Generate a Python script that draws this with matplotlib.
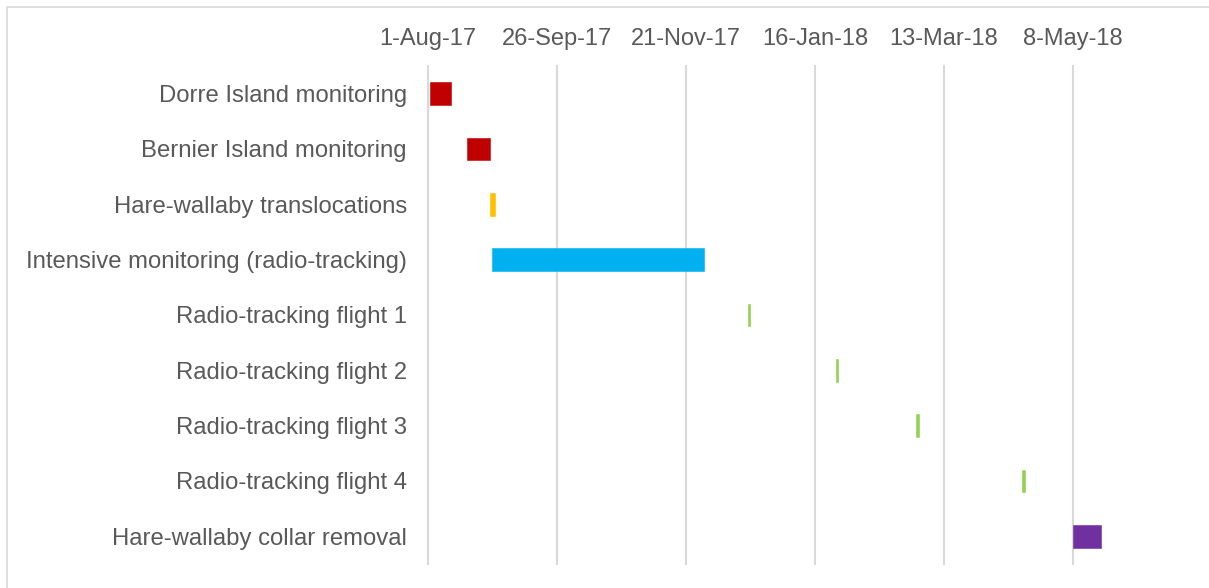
import datetime as dt
import matplotlib.pyplot as plt
import matplotlib.dates as mdates
from matplotlib.patches import Rectangle

# tasks (top to bottom)
tasks = ['Dorre Island monitoring', 'Bernier Island monitoring', 'Hare-wallaby translocations',
         'Intensive monitoring (radio-tracking)', 'Radio-tracking flight 1', 'Radio-tracking flight 2',
         'Radio-tracking flight 3', 'Radio-tracking flight 4', 'Hare-wallaby collar removal']
starts = ['2017-08-02', '2017-08-18', '2017-08-28', '2017-08-29', '2017-12-18',
          '2018-01-25', '2018-03-01', '2018-04-16', '2018-05-08']
durations = [9, 10, 2, 92, 1, 1, 1, 1, 12]
colors = ['#C00000', '#C00000', '#FFC000', '#00B0F0', '#92D050',
          '#92D050', '#92D050', '#92D050', '#7030A0']
tick_dates = ['2017-08-01', '2017-09-26', '2017-11-21', '2018-01-16', '2018-03-13', '2018-05-08']

plt.rcParams['font.family'] = ['Liberation Sans', 'DejaVu Sans']
txt = '#595959'

fig = plt.figure(figsize=(12.09, 5.88), dpi=100)
ax = fig.add_axes([427.7 / 1209, 1 - 564 / 588, 1 - 427.7 / 1209, 498 / 588])

# outer chart frame
fig.patches.append(Rectangle((7 / 1209, -0.1), 1.2, 1 - 7 / 588 + 0.1, transform=fig.transFigure,
                             fill=False, edgecolor='#d9d9d9', linewidth=1.2))

s = [mdates.date2num(dt.date.fromisoformat(d)) for d in starts]
ax.barh(range(len(tasks)), durations, left=s, height=0.41, color=colors,
        edgecolor=colors, linewidth=0.4)

x0 = mdates.date2num(dt.date(2017, 8, 1))
ax.set_xlim(x0, x0 + 339)
ax.set_ylim(8.5, -0.5)
ticks = [mdates.date2num(dt.date.fromisoformat(d)) for d in tick_dates]
ax.set_xticks(ticks)
ax.set_xticklabels([dt.date.fromisoformat(d).strftime('%-d-%b-%y') for d in tick_dates])
ax.xaxis.tick_top()
ax.set_yticks(range(len(tasks)))
ax.set_yticklabels(tasks)
ax.tick_params(axis='x', length=0, pad=11.5, labelsize=17, labelcolor=txt)
ax.tick_params(axis='y', length=0, pad=15, labelsize=17.2, labelcolor=txt)
ax.grid(axis='x', color='#d9d9d9', linewidth=1.5)
for gl in ax.get_xgridlines():
    gl.set_clip_on(False)
ax.set_axisbelow(True)
for sp in ax.spines.values():
    sp.set_visible(False)

plt.savefig('out.png', dpi=100)
